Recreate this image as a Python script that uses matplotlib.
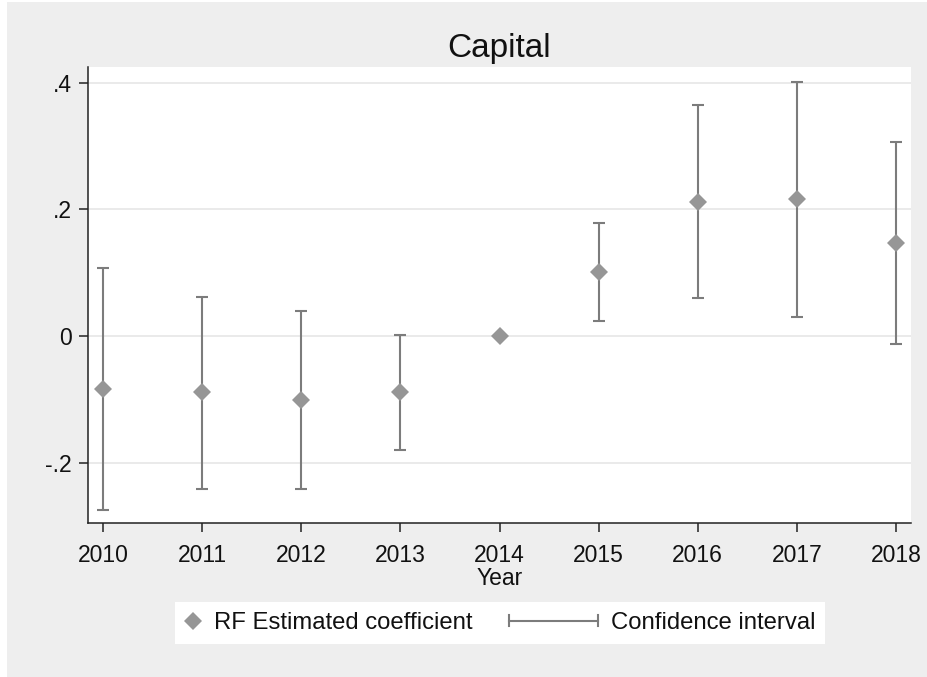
import matplotlib.pyplot as plt
import numpy as np
from matplotlib.lines import Line2D
from matplotlib.patches import Rectangle
from matplotlib.legend_handler import HandlerBase

plt.rcParams['font.family'] = ['Liberation Sans', 'DejaVu Sans']

years = [2010, 2011, 2012, 2013, 2014, 2015, 2016, 2017, 2018]
coef = [-0.084, -0.089, -0.101, -0.089, 0.0, 0.101, 0.212, 0.216, 0.147]
ci_low = [-0.274, -0.241, -0.241, -0.180, 0.0, 0.024, 0.060, 0.030, -0.012]
ci_high = [0.108, 0.062, 0.039, 0.001, 0.0, 0.178, 0.364, 0.401, 0.307]
yticks = [-0.2, 0, 0.2, 0.4]
ytick_labels = ['-.2', '0', '.2', '.4']

MARK = '#969696'
BAR = '#7c7c7c'
BG = '#eeeeee'


class HandlerCI(HandlerBase):
    # horizontal bar with caps, drawn to the left of the handle box
    def create_artists(self, legend, orig_handle, xdescent, ydescent,
                       width, height, fontsize, trans):
        x1 = width - xdescent
        x0 = x1 - 64
        y = height / 2 - ydescent
        c = 4
        line = Line2D([x0, x1], [y, y], color=BAR, lw=1.5, transform=trans)
        cap0 = Line2D([x0, x0], [y - c, y + c], color=BAR, lw=1.5, transform=trans)
        cap1 = Line2D([x1, x1], [y - c, y + c], color=BAR, lw=1.5, transform=trans)
        return [line, cap0, cap1]


W, H = 927, 677
fig = plt.figure(figsize=(W / 100, H / 100), dpi=100, facecolor='white')
fig.patches.append(Rectangle((7 / W, 0), 1 - 7 / W, 1 - 2 / H,
                             transform=fig.transFigure, facecolor=BG,
                             edgecolor='none', zorder=-10))

ax = fig.add_axes([88 / W, 1 - 523 / H, (911 - 88) / W, (523 - 67) / H])
ax.set_facecolor('white')

x = np.array(years)
c = np.array(coef)
lo = np.array(ci_low)
hi = np.array(ci_high)
has_ci = hi > lo
ax.errorbar(x[has_ci], c[has_ci], yerr=[c[has_ci] - lo[has_ci], hi[has_ci] - c[has_ci]],
            fmt='none', ecolor=BAR, elinewidth=1.5, capsize=4.2, capthick=1.5, zorder=2)
ax.plot(x, c, 'D', color=MARK, markersize=9.5, markeredgewidth=0, zorder=3)

ax.set_xlim(2009.849, 2018.151)
ax.set_ylim(-0.2952, 0.4246)
ax.set_xticks(years)
ax.set_xticklabels([str(y) for y in years])
ax.set_yticks(yticks)
ax.set_yticklabels(ytick_labels)

ax.grid(axis='y', color='#e8e8e8', lw=1.3, zorder=0)
ax.set_axisbelow(True)
for s in ['top', 'right']:
    ax.spines[s].set_visible(False)
for s in ['left', 'bottom']:
    ax.spines[s].set_color('#222222')
    ax.spines[s].set_linewidth(1.1)
ax.tick_params(axis='both', direction='out', length=6.5, width=1.1,
               color='#222222', labelsize=16.5, labelcolor='#111111')
ax.tick_params(axis='x', pad=8.5)
ax.tick_params(axis='y', pad=5)

ax.set_title('Capital', fontsize=24, pad=7, color='#111111')
ax.set_xlabel('Year', fontsize=16.5, labelpad=0, color='#111111')

diamond = Line2D([], [], marker='D', color=MARK, markersize=9.5, markeredgewidth=0, linestyle='none')
ci_handle = Line2D([], [], color=BAR)
leg = fig.legend([diamond, ci_handle], ['RF Estimated coefficient', 'Confidence interval'],
                 loc='center', bbox_to_anchor=(500 / W, 1 - 623 / H), ncol=2,
                 fontsize=17.2, handlelength=0.66, handletextpad=0.55,
                 columnspacing=4.6, borderpad=0.42, frameon=True, fancybox=False,
                 handler_map={ci_handle: HandlerCI()})
leg.get_frame().set_facecolor('white')
leg.get_frame().set_edgecolor('none')
leg.get_frame().set_alpha(1)
for t in leg.get_texts():
    t.set_color('#111111')

fig.savefig('out.png', dpi=100, facecolor=fig.get_facecolor())
